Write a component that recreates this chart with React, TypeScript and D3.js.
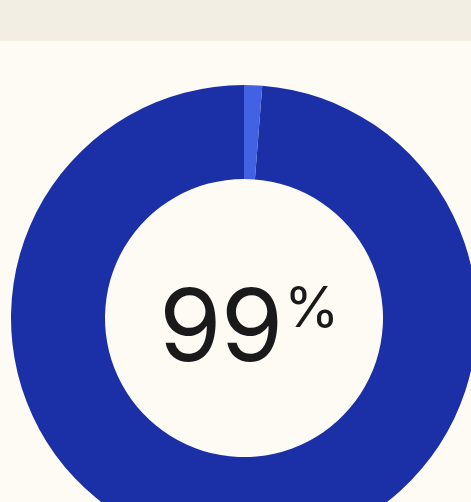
import React from "react";
import * as d3 from "d3";

const categories = ["Yes", "No"];
const values = [98.75, 1.25];
const colors = ["#1b30a6", "#4361e3"];
const label = "99";
const labelSuffix = "%";

const W = 471;
const H = 502;

export default function App() {
  const cx = 244;
  const cy = 318;
  const outer = 233;
  const inner = 139;
  const pie = d3
    .pie<number>()
    .sort(null)
    .startAngle(0)
    .endAngle(-2 * Math.PI)(values);
  const arc = d3.arc<d3.PieArcDatum<number>>().innerRadius(inner).outerRadius(outer);
  return (
    <div style={{ position: "absolute", left: 0, top: 0, width: W, height: H }}>
      <svg width={W} height={H} style={{ display: "block" }}>
        <rect x={0} y={0} width={W} height={H} fill="#fefbf5" />
        <rect x={0} y={0} width={W} height={41} fill="#f2eee3" />
        <g transform={`translate(${cx},${cy})`}>
          {pie.map((d, i) => (
            <path key={categories[i]} d={arc(d) || ""} fill={colors[i]} />
          ))}
        </g>
        <text
          x={159}
          y={361}
          fontFamily="Inter, 'Noto Sans', sans-serif"
          fontSize={101}
          fill="#1a1a1a"
          letterSpacing={-1}
        >
          {label}
          <tspan fontSize={56} dy={-34} dx={2} letterSpacing={0}>
            {labelSuffix}
          </tspan>
        </text>
      </svg>
    </div>
  );
}
